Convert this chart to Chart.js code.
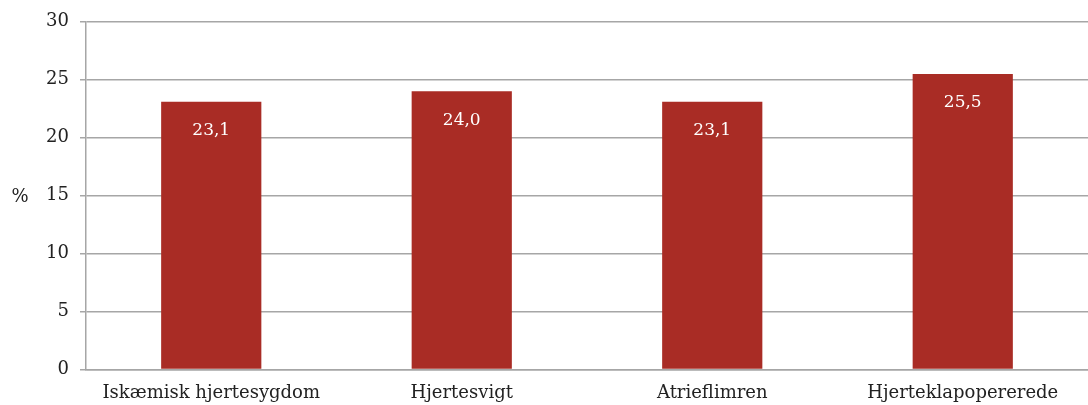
<!DOCTYPE html>
<html>
<head>
<meta charset="utf-8">
<script src="https://cdn.jsdelivr.net/npm/chart.js@4"></script>
<style>
  html, body { margin: 0; padding: 0; background: #fff; }
  #wrap { width: 1088px; height: 405px; }
</style>
</head>
<body>
<div id="wrap"><canvas id="c"></canvas></div>
<script>
const categories = ['Iskæmisk hjertesygdom', 'Hjertesvigt', 'Atrieflimren', 'Hjerteklapopererede'];
const values = [23.1, 24.0, 23.1, 25.5];
const yTicks = [0, 5, 10, 15, 20, 25, 30];

const FONT = '"DejaVu Serif", serif';
const barColor = '#a92c25';
const gridColor = '#a6a6a6';

// values drawn inside the bar, near its top
const barLabels = {
  id: 'barLabels',
  afterDatasetsDraw(chart) {
    const ctx = chart.ctx;
    const meta = chart.getDatasetMeta(0);
    ctx.save();
    ctx.fillStyle = '#fff';
    ctx.font = '17px ' + FONT;
    ctx.textAlign = 'center';
    ctx.textBaseline = 'middle';
    meta.data.forEach((bar, i) => {
      ctx.fillText(values[i].toFixed(1).replace('.', ','), bar.x, bar.y + 29);
    });
    ctx.restore();
  }
};

// horizontal "%" axis title
const percentTitle = {
  id: 'percentTitle',
  afterDraw(chart) {
    const ctx = chart.ctx;
    const area = chart.chartArea;
    ctx.save();
    ctx.fillStyle = '#222';
    ctx.font = '18px ' + FONT;
    ctx.textAlign = 'center';
    ctx.textBaseline = 'middle';
    ctx.fillText('%', 20, (area.top + area.bottom) / 2 + 2);
    ctx.restore();
  }
};

new Chart(document.getElementById('c'), {
  type: 'bar',
  data: {
    labels: categories,
    datasets: [{
      data: values,
      backgroundColor: barColor,
      categoryPercentage: 1,
      barPercentage: 0.4
    }]
  },
  options: {
    responsive: true,
    maintainAspectRatio: false,
    animation: false,
    layout: { padding: { top: 18, right: 0, left: 0, bottom: -12 } },
    plugins: {
      legend: { display: false },
      tooltip: { enabled: false }
    },
    scales: {
      x: {
        grid: { display: false, drawTicks: false },
        border: { color: gridColor, width: 1.5 },
        ticks: { color: '#222', font: { family: FONT, size: 18 }, padding: 13 }
      },
      y: {
        min: 0,
        max: 30,
        afterFit(scale) { scale.width = 86; },
        afterBuildTicks(scale) { scale.ticks = yTicks.map(v => ({ value: v })); },
        grid: { color: gridColor, lineWidth: 1.5, tickLength: 6 },
        border: { color: gridColor, width: 1.5 },
        ticks: { color: '#222', font: { family: FONT, size: 18 }, padding: 11 }
      }
    }
  },
  plugins: [barLabels, percentTitle]
});
</script>
</body>
</html>
